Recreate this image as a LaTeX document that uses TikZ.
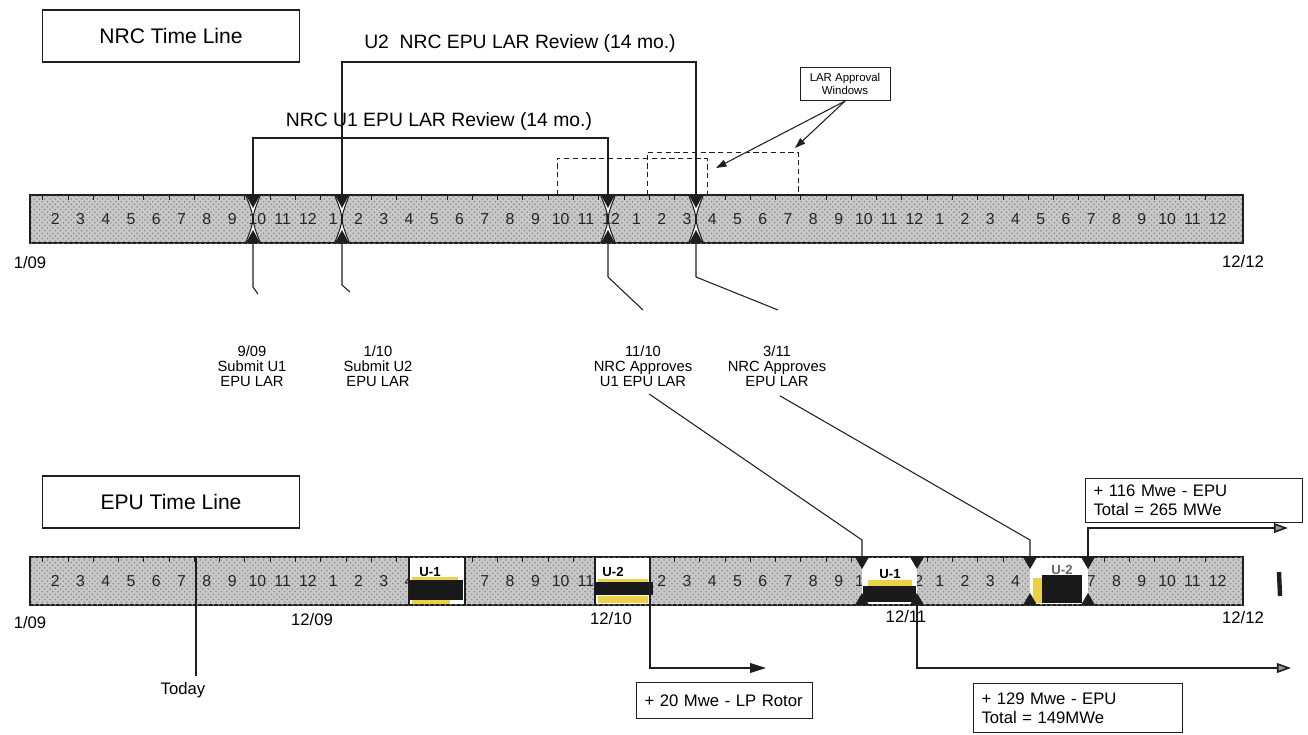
\documentclass[tikz,border=0pt]{standalone}
\usepackage{fontspec}
\setmainfont{Liberation Sans}
\usepackage{tikz}
\usetikzlibrary{arrows.meta, positioning, patterns, calc}
\definecolor{bargray}{RGB}{200,200,200}
\definecolor{mydark}{RGB}{30,30,30}
\definecolor{hilite}{RGB}{236,208,72}
\tikzset{
  titlebox/.style={rectangle, draw=mydark, line width=0.6pt,
    minimum width=5.14cm, minimum height=1.04cm,
    font=\fontsize{12}{14}\selectfont},
  bar/.style={draw=mydark, line width=0.8pt, fill=bargray,
    postaction={pattern=crosshatch dots, pattern color=black!45}},
  month/.style={font=\fontsize{9}{9}\selectfont, text=black!85, inner sep=0pt},
  tick/.style={line width=0.4pt, color=mydark},
  edgelbl/.style={font=\fontsize{9.5}{10}\selectfont, inner sep=0pt},
  revlbl/.style={font=\fontsize{11}{12}\selectfont, inner sep=0pt},
  review/.style={line width=1.5pt, color=mydark},
  window/.style={densely dashed, line width=0.5pt, color=mydark},
  leader/.style={line width=0.6pt, color=mydark},
  datelbl/.style={align=center, font=\fontsize{8.4}{8.6}\selectfont, inner sep=0pt},
  larbox/.style={rectangle, draw=mydark, line width=0.5pt, align=center,
    minimum width=1.8cm, minimum height=0.64cm, font=\fontsize{6.5}{7.5}\selectfont},
  lararrow/.style={-{Triangle[length=6pt, width=4pt]}, line width=0.6pt, color=mydark},
  gain/.style={-{Triangle[length=9pt, width=5.5pt]}, line width=0.9pt, color=mydark},
  gainopen/.style={-{Triangle[length=8pt, width=5.5pt, fill=black!40]}, line width=0.9pt, color=mydark},
  gainbox/.style={rectangle, draw=mydark, line width=0.6pt, anchor=north west,
    align=left, inner xsep=0.16cm, font=\fontsize{9.5}{10.8}\selectfont},
  unitlbl/.style={font=\bfseries\fontsize{7.5}{8}\selectfont, inner sep=0pt},
  redact/.style={fill=black!90}
}

\begin{document}
\begin{tikzpicture}[x=0.02cm, y=-0.02cm]
  \useasboundingbox (0,0) rectangle (1308,734);

  % Title boxes
  \node[titlebox] (nrcbox) at (171,36) {NRC Time Line};
  \node[titlebox] (epubox) at (171,502) {EPU Time Line};

  % NRC bar
  \draw[bar] (30,195) rectangle (1243,243);
  \foreach \i in {2,...,48}{
    \pgfmathtruncatemacro{\m}{mod(\i-1,12)+1}
    \node[month] (tm\i) at ({30+(\i-1)*25.27},219) {\m};
  }
  \foreach \i in {1,...,47}
    \draw[tick] ({30+(\i-0.5)*25.27},195) -- ++(0,5);
  \node[edgelbl] (tstart) at (30,263) {1/09};
  \node[edgelbl] (tend) at (1243,262) {12/12};

  % Notches on NRC bar
  \foreach \x/\n in {253/s1, 342/s2, 608/a1, 696/a2}{
    \fill[white] (\x-7,196) .. controls (\x+2,219) .. (\x-7,242)
      -- (\x+7,242) .. controls (\x-2,219) .. (\x+7,196) -- cycle;
    \draw[leader] (\x-7,196) .. controls (\x+2,219) .. (\x-7,242);
    \draw[leader] (\x+7,196) .. controls (\x-2,219) .. (\x+7,242);
    \fill[mydark] (\x-7,195) -- (\x+7,195) -- (\x,208) -- cycle;
    \fill[mydark] (\x-7,243) -- (\x+7,243) -- (\x,230) -- cycle;
    \coordinate (\n-t) at (\x,195);
    \coordinate (\n-b) at (\x,243);
  }

  % Review brackets
  \node[revlbl] (rev2) at (520,43) {U2~ NRC EPU LAR Review (14 mo.)};
  \node[revlbl] (rev1) at (439,121) {NRC U1 EPU LAR Review (14 mo.)};
  \draw[review] (s1-t) -- ++(0,-57) -| (a1-t);
  \draw[review] (s2-t) -- ++(0,-133) -| (a2-t);

  % Approval windows
  \coordinate (w1l) at (557,195);
  \coordinate (w1r) at (707,195);
  \coordinate (w2l) at (647,195);
  \coordinate (w2r) at (798,195);
  \draw[window] (w1l) -- ++(0,-37) -| (w1r);
  \draw[window] (w2l) -- ++(0,-43) -| (w2r);
  \node[larbox] (lar) at (845,84) {LAR Approval\\Windows};
  \coordinate (w1tip) at (716,168);
  \coordinate (w2tip) at (795,148);
  \draw[lararrow] (lar.south) -- (w1tip);
  \draw[lararrow] (lar.south) -- (w2tip);

  % Milestones
  \node[datelbl] (sub1) at (252,366) {9/09\\Submit U1\\EPU LAR};
  \node[datelbl] (sub2) at (378,366) {1/10\\Submit U2\\EPU LAR};
  \node[datelbl] (app1) at (643,366) {11/10\\NRC Approves\\U1 EPU LAR};
  \node[datelbl] (app2) at (777,366) {3/11\\NRC Approves\\EPU LAR};
  \draw[leader] (s1-b) -- ++(0,44) -- ++(5,7);
  \draw[leader] (s2-b) -- ++(0,42) -- ++(8,7);
  \draw[leader] (a1-b) -- ++(0,34) -- ++(35,33);
  \draw[leader] (a2-b) -- ++(0,34) -- ++(82,33);

  % EPU bar (months under the outages are hidden)
  \draw[bar] (30,557) rectangle (1243,605);
  \foreach \i in {2,...,48}{
    \pgfmathtruncatemacro{\m}{mod(\i-1,12)+1}
    \pgfmathtruncatemacro{\hide}{or(or(or(\i==17,\i==18),or(\i==24,\i==25)),or(or(\i==35,\i==41),\i==42))}
    \ifnum\hide=0
      \node[month] (bm\i) at ({30+(\i-1)*25.27},581) {\m};
    \fi
  }
  \foreach \i in {1,...,47}
    \draw[tick] ({30+(\i-0.5)*25.27},557) -- ++(0,5);
  \node[edgelbl] (bstart) at (30,623) {1/09};
  \node[edgelbl] (b09) at (312,620) {12/09};
  \node[edgelbl] (b10) at (611,619) {12/10};
  \node[edgelbl] (b11) at (906,617) {12/11};
  \node[edgelbl] (bend) at (1243,618) {12/12};

  % Outages
  \fill[white] (409,558) rectangle (465,604);
  \draw[leader] (409,557) -- (409,605) (465,557) -- (465,605);
  \fill[hilite] (412,577) rectangle (458,581);
  \fill[redact] (409,580) rectangle (463,600);
  \fill[hilite] (412,600) rectangle (450,604);
  \node[unitlbl] (out1) at (430,572) {U-1};

  \fill[white] (595,558) rectangle (650,604);
  \draw[leader] (595,557) -- (595,605);
  \fill[hilite] (598,579) rectangle (648,583);
  \fill[redact] (595,582) rectangle (653,595);
  \fill[hilite] (598,596) rectangle (648,603);
  \node[unitlbl] (out2) at (613,572) {U-2};

  \fill[white] (862,558) rectangle (917,604);
  \fill[hilite] (868,580) rectangle (912,586);
  \fill[redact] (863,586) rectangle (916,602);
  \node[unitlbl] (out3) at (890,574) {U-1};

  \fill[white] (1030,558) rectangle (1088,604);
  \node[unitlbl, text=black!60] (out4) at (1062,570) {U-2};
  \fill[hilite] (1033,578) rectangle (1043,603);
  \fill[redact] (1042,575) rectangle (1082,603);

  \foreach \x/\n in {862/m1, 917/m3, 1030/m2, 1088/m4}{
    \fill[mydark] (\x-7,557) -- (\x+7,557) -- (\x,569) -- cycle;
    \fill[mydark] (\x-7,605) -- (\x+7,605) -- (\x,593) -- cycle;
    \coordinate (\n-t) at (\x,557);
    \coordinate (\n-b) at (\x,605);
  }

  % Approvals into EPU bar
  \coordinate (k1) at (862,540);
  \coordinate (k2) at (1030,540);
  \draw[leader] ([shift={(6,7)}]app1.south) -- (k1) -- (m1-t);
  \draw[leader] ([shift={(3,9)}]app2.south) -- (k2) -- (m2-t);

  % Today
  \coordinate (td) at (196,557);
  \coordinate (tdend) at (196,676);
  \node[edgelbl] (today) at (183,690) {Today};
  \draw[leader] (td) -- (tdend);

  % Gains
  \coordinate (p1-t) at (650,557);
  \coordinate (g1) at (766,668);
  \coordinate (g2) at (1291,668);
  \coordinate (g3) at (1288,528);
  \draw[gain] (p1-t) |- (g1);
  \draw[gainopen] (m3-b) |- (g2);
  \draw[gainopen] (m4-t) |- (g3);
  \node[gainbox, text width=3.2cm, minimum height=0.72cm] (lp) at (636,682) {+ 20 Mwe - LP Rotor};
  \node[gainbox, text width=3.86cm, minimum height=0.98cm] (epu1) at (973,683) {+ 129 Mwe - EPU\\Total = 149MWe};
  \node[gainbox, text width=4.02cm, minimum height=0.88cm] (epu2) at (1085,478) {+ 116 Mwe - EPU\\Total = 265 MWe};

  % stray mark
  \draw[line width=2.5pt, mydark] (1279,572) -- (1280,596);
\end{tikzpicture}
\end{document}
